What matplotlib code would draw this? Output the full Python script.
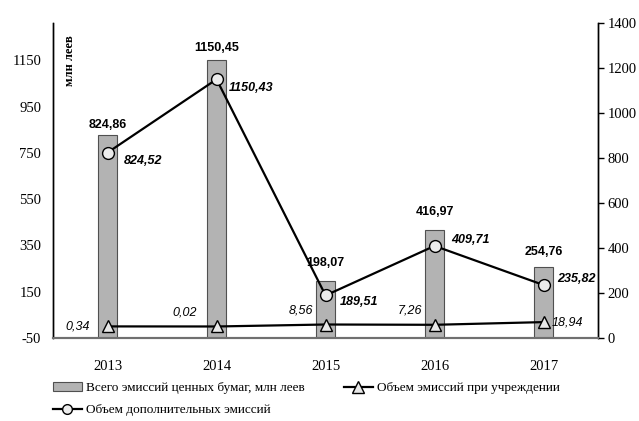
import matplotlib
matplotlib.use("Agg")
import matplotlib.pyplot as plt
from matplotlib.lines import Line2D
from matplotlib.patches import Patch
import numpy as np

plt.rcParams["axes.unicode_minus"] = False

years = ["2013", "2014", "2015", "2016", "2017"]
total = [824.86, 1150.45, 198.07, 416.97, 254.76]      # bars, left axis
founding = [0.34, 0.02, 8.56, 7.26, 18.94]             # triangles, left axis
additional = [824.52, 1150.43, 189.51, 409.71, 235.82]  # circles, right axis

total_lbl = ["824,86", "1150,45", "198,07", "416,97", "254,76"]
founding_lbl = ["0,34", "0,02", "8,56", "7,26", "18,94"]
additional_lbl = ["824,52", "1150,43", "189,51", "409,71", "235,82"]

left_ticks = [-50, 150, 350, 550, 750, 950, 1150]
right_ticks = [0, 200, 400, 600, 800, 1000, 1200, 1400]

serif = "Liberation Serif"
sans = "Liberation Sans"

fig = plt.figure(figsize=(6.39, 4.21), dpi=100)
ax = fig.add_axes([0.083, 0.197, 0.853, 0.748])
ax2 = ax.twinx()

x = np.arange(len(years))
base = -50
ax.bar(x, np.array(total) - base, bottom=base, width=0.18, color="#b3b3b3",
       edgecolor="#505050", linewidth=0.8, zorder=2)
ax.plot(x, founding, color="black", lw=1.6, marker="^", ms=9,
        mfc="#e8e8e8", mec="black", mew=1, zorder=4)
ax2.plot(x, additional, color="black", lw=1.6, marker="o", ms=8.5,
         mfc="#ececec", mec="black", mew=1, zorder=4)

ax.set_xlim(-0.5, 4.5)
ax.set_ylim(-50, 1310)
ax2.set_ylim(0, 1400)
ax.set_yticks(left_ticks)
ax2.set_yticks(right_ticks)
ax.set_xticks(x)
ax.set_xticklabels(years)

for a in (ax, ax2):
    a.spines["top"].set_visible(False)
    a.spines["bottom"].set_color("#707070")
    a.spines["bottom"].set_linewidth(1.5)
    a.spines["left"].set_linewidth(1)
    a.spines["right"].set_linewidth(1)
ax2.set_zorder(ax.get_zorder() + 1)
ax.patch.set_visible(False)

ax.tick_params(axis="y", length=0, pad=8.5, labelsize=10.5)
ax.tick_params(axis="x", length=0, pad=16, labelsize=10.5)
ax2.tick_params(axis="y", length=4, width=1, direction="out", pad=3, labelsize=10.5)
for lab in ax.get_xticklabels() + ax.get_yticklabels() + ax2.get_yticklabels():
    lab.set_fontfamily(serif)

ax.text(0.031, 0.88, "млн леев", transform=ax.transAxes, rotation=90,
        ha="center", va="center", fontfamily=serif, fontweight="bold", fontsize=9)

# bar value labels (offsets in px above bar top)
bar_off = [10, 12, 18, 18, 15]
for i, v in enumerate(total):
    ax.annotate(total_lbl[i], (x[i], v), xytext=(0, bar_off[i] * 0.72),
                textcoords="offset points", ha="center", va="center",
                fontfamily=sans, fontweight="bold", fontsize=9)

# circle value labels
circ_off = [(12, -6), (9, -6), (10, -5), (12, 4), (10, 4)]
for i, v in enumerate(additional):
    ax2.annotate(additional_lbl[i], (x[i], v), xytext=circ_off[i],
                 textcoords="offset points", ha="left", va="center",
                 fontfamily=sans, fontweight="bold", fontstyle="italic", fontsize=9)

# triangle value labels
tri_off = [(-13, 0), (-23, 10), (-18, 10), (-18, 10), (6, 0)]
tri_ha = ["right", "center", "center", "center", "left"]
for i, v in enumerate(founding):
    ax.annotate(founding_lbl[i], (x[i], v), xytext=tri_off[i],
                textcoords="offset points", ha=tri_ha[i], va="center",
                fontfamily=sans, fontstyle="italic", fontsize=9)

handles = [
    Patch(facecolor="#b3b3b3", edgecolor="#505050", linewidth=0.8),
    Line2D([], [], color="black", lw=1.6, marker="o", ms=7, mfc="#ececec", mec="black"),
    Line2D([], [], color="black", lw=1.6, marker="^", ms=8, mfc="#e8e8e8", mec="black"),
]
labels = [
    "Всего эмиссий ценных бумаг, млн леев",
    "Объем дополнительных эмиссий",
    "Объем эмиссий при учреждении",
]
fig.legend(handles, labels, loc="upper left", bbox_to_anchor=(0.074, 0.105),
           ncol=2, frameon=False, prop={"family": serif, "size": 9.5},
           handlelength=2.2, handletextpad=0.3, columnspacing=3.0,
           labelspacing=0.75, borderaxespad=0)

fig.savefig("out.png", dpi=100)
